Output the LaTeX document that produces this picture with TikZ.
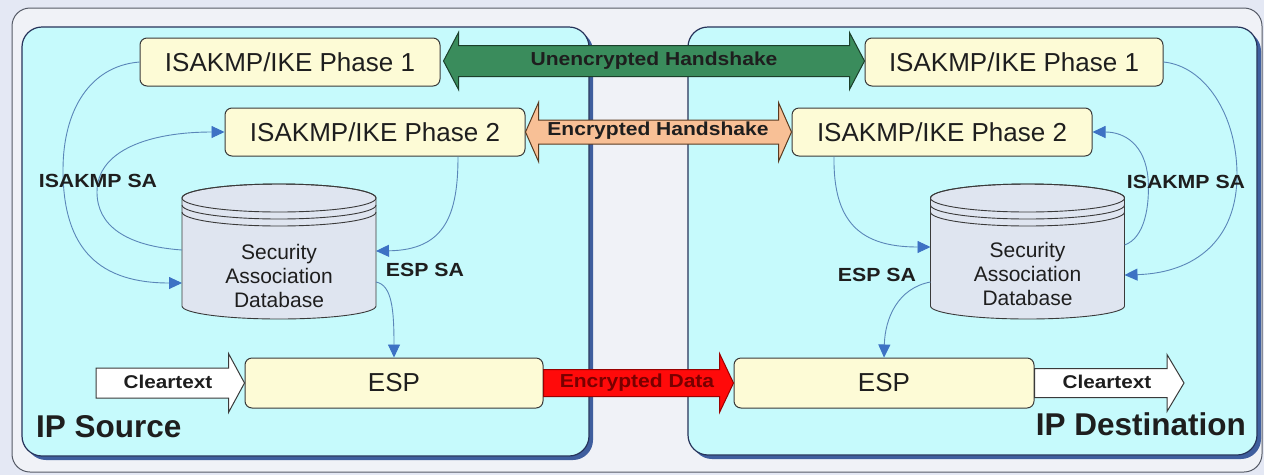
\documentclass[tikz,border=0pt]{standalone}
\usepackage{fontspec}
\setmainfont{Liberation Sans}
\newfontfamily\widefont{Liberation Sans}[FakeStretch=1.12]
\usetikzlibrary{arrows.meta,calc}
\definecolor{bgc}{HTML}{E4E8F4}
\definecolor{framefill}{HTML}{F0F2F7}
\definecolor{framedraw}{HTML}{555A66}
\definecolor{panelfill}{HTML}{C6FAFC}
\definecolor{paneldraw}{HTML}{26335A}
\definecolor{panelshadow}{HTML}{3F5E9E}
\definecolor{boxfill}{HTML}{FDFBD6}
\definecolor{boxline}{HTML}{3A3A3A}
\definecolor{cylfill}{HTML}{DFE5F0}
\definecolor{conn}{HTML}{5A86B8}
\definecolor{connhead}{HTML}{3D72C4}
\definecolor{greenfill}{HTML}{3A8C5C}
\definecolor{greenline}{HTML}{1B3F2A}
\definecolor{orangefill}{HTML}{F8C096}
\definecolor{orangeline}{HTML}{5A3A20}
\definecolor{redfill}{HTML}{FF0A0A}
\definecolor{redline}{HTML}{9A0000}
\definecolor{redtext}{HTML}{780000}
\definecolor{txt}{HTML}{1E1E1E}
\tikzset{
  box/.style={draw=boxline, fill=boxfill, rounded corners=7pt, line width=1pt,
    minimum width=300pt, minimum height=48pt, inner sep=0pt, text=txt,
    font=\fontsize{26}{28}\selectfont},
  cylbox/.style={inner sep=0pt, align=center, text=txt, font=\fontsize{21}{24}\selectfont},
  cylshape/.style={draw=boxline, fill=cylfill, line width=0.9pt},
  conn/.style={draw=conn, line width=0.9pt, -{Triangle[length=13pt,width=12pt,fill=connhead,color=connhead]}},
  lab/.style={inner sep=0pt, text=txt, font=\widefont\bfseries\fontsize{19}{21}\selectfont},
  arrlab/.style={inner sep=0pt, font=\widefont\bfseries\fontsize{18.8}{20}\selectfont},
  panel/.style={fill=panelfill, draw=paneldraw, line width=1.2pt, rounded corners=20pt},
  shadowp/.style={fill=panelshadow, rounded corners=20pt},
  bigl/.style={inner sep=0pt, text=txt, font=\bfseries\fontsize{31.5}{33}\selectfont},
}
% double arrow: style, from, to, shaft half, head half, head length
\newcommand\dblarrow[6]{%
  \path[#1] let \p1=(#2), \p2=(#3) in
    (\x1,\y1) -- (\x1+#6,\y1+#5) -- (\x1+#6,\y1+#4) -- (\x2-#6,\y1+#4) --
    (\x2-#6,\y1+#5) -- (\x2,\y1) -- (\x2-#6,\y1-#5) -- (\x2-#6,\y1-#4) --
    (\x1+#6,\y1-#4) -- (\x1+#6,\y1-#5) -- cycle;}
% single arrow
\newcommand\sglarrow[6]{%
  \path[#1] let \p1=(#2), \p2=(#3) in
    (\x1,\y1+#4) -- (\x2-#6,\y1+#4) -- (\x2-#6,\y1+#5) -- (\x2,\y1) --
    (\x2-#6,\y1-#5) -- (\x2-#6,\y1-#4) -- (\x1,\y1-#4) -- cycle;}
% cylinder around a centre coordinate
\newcommand\drawcyl[1]{%
  \path[cylshape] ($(#1.center)+(-97,-78)$) -- ($(#1.center)+(-97,30)$)
    arc[start angle=180, end angle=360, x radius=97pt, y radius=13pt]
    -- ($(#1.center)+(97,-78)$)
    arc[start angle=0, end angle=180, x radius=97pt, y radius=14pt] -- cycle;
  \draw[cylshape, fill=none] ($(#1.center)+(0,-78)$) ellipse[x radius=97pt, y radius=14pt];
  \draw[cylshape, fill=none] ($(#1.center)+(-97,-71)$)
    arc[start angle=180, end angle=360, x radius=97pt, y radius=14pt];
  \draw[cylshape, fill=none] ($(#1.center)+(-97,-64)$)
    arc[start angle=180, end angle=360, x radius=97pt, y radius=14pt];}
\begin{document}
\begin{tikzpicture}[x=1pt,y=-1pt]
\useasboundingbox (0,0) rectangle (1264,475);
\fill[bgc] (0,0) rectangle (1264,475);
\draw[fill=framefill, draw=framedraw, line width=1pt, rounded corners=18pt] (12,8) rectangle (1262,472);
% panels
\fill[shadowp] (26,31) rectangle (593,460);
\draw[panel] (22,27) rectangle (589,456);
\fill[shadowp] (692,31) rectangle (1261,459);
\draw[panel] (688,27) rectangle (1257,455);
% boxes
\node[box] (p1L) at (290,62) {ISAKMP/IKE Phase 1};
\node[box, minimum width=298pt] (p1R) at (1014,62) {ISAKMP/IKE Phase 1};
\node[box] (p2L) at (375,132) {ISAKMP/IKE Phase 2};
\node[box] (p2R) at (942,132) {ISAKMP/IKE Phase 2};
\node[box, minimum width=298pt, minimum height=50pt] (espL) at (394,383) {ESP};
\node[box, minimum height=50pt] (espR) at (884,383) {ESP};
% cylinders
\coordinate (cL) at (279,276);
\coordinate (cR) at (1027.5,276);
\drawcyl{cL}
\drawcyl{cR}
\node[cylbox] (cylL) at (279,276) {Security\\Association\\Database};
\node[cylbox] (cylR) at (1027.5,274) {Security\\Association\\Database};
% handshake arrows
\dblarrow{fill=greenfill, draw=greenline, line width=1pt}{$(p1L.east)+(3,-1)$}{p1R.west}{15.5pt}{28.5pt}{15pt}
\node[arrlab, text=txt] (uh) at (654,61) {Unencrypted Handshake};
\dblarrow{fill=orangefill, draw=orangeline, line width=1pt}{p2L.east}{p2R.west}{12pt}{29.5pt}{13pt}
\node[arrlab, text=txt] (eh) at (658,131) {Encrypted Handshake};
\sglarrow{fill=redfill, draw=redline, line width=1pt}{espL.east}{espR.west}{13.5pt}{29.5pt}{14pt}
\node[arrlab, text=redtext] (ed) at (637,383) {Encrypted Data};
% cleartext arrows
\coordinate (ctL) at (96,383);
\coordinate (ctR) at (1184,383);
\sglarrow{fill=white, draw=boxline, line width=1pt}{ctL}{espL.west}{15pt}{29.5pt}{16pt}
\node[arrlab, text=txt, font=\widefont\bfseries\fontsize{18.5}{20}\selectfont] (ctLt) at (168,382) {Cleartext};
\sglarrow{fill=white, draw=boxline, line width=1pt}{espR.east}{ctR}{14.5pt}{28.5pt}{17pt}
\node[arrlab, text=txt, font=\widefont\bfseries\fontsize{18.5}{20}\selectfont] (ctRt) at (1107,382) {Cleartext};
% connectors left
\draw[conn] (p1L.west) .. controls (90,66) and (63,110) .. (63,170)
  .. controls (63,250) and (100,283) .. ($(cL)+(-97,7)$);
\draw[conn] ($(cL)+(-97,-26)$) .. controls (125,246) and (97,225) .. (97,192)
  .. controls (97,150) and (150,132) .. (p2L.west);
\draw[conn] ($(p2L.south)+(83,0)$) .. controls (458,215) and (445,250) .. ($(cL)+(97,-25)$);
\draw[conn] ($(cL)+(97,6)$) .. controls (392,285) and (394,310) .. (espL.north);
% connectors right
\draw[conn] (p1R.east) .. controls (1205,66) and (1237,115) .. (1237,175)
  .. controls (1237,240) and (1195,273) .. ($(cR)+(97,-1)$);
\draw[conn] ($(cR)+(97,-31)$) .. controls (1145,238) and (1150,205) .. (1148,178)
  .. controls (1145,145) and (1125,132) .. (p2R.east);
\draw[conn] ($(p2R.south)+(-108,0)$) .. controls (833,222) and (860,247) .. ($(cR)+(-97,-29)$);
\draw[conn] ($(cR)+(-97,6)$) .. controls (898,288) and (885,318) .. (espR.north);
% labels
\node[lab] (saL) at (98,181) {ISAKMP SA};
\node[lab] (saR) at (1186,182) {ISAKMP SA};
\node[lab] (espsaL) at (425,270) {ESP SA};
\node[lab] (espsaR) at (877,275) {ESP SA};
\node[bigl, anchor=west] (src) at (36,427) {IP Source};
\node[bigl, anchor=east] (dst) at (1246,424) {IP Destination};
\end{tikzpicture}
\end{document}
